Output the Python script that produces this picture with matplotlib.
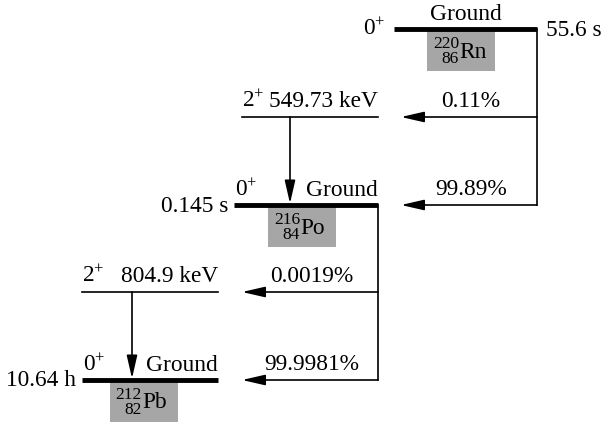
import numpy as np
import matplotlib
matplotlib.use("Agg")
import matplotlib.pyplot as plt

plt.rcParams['font.family'] = ['Liberation Serif', 'DejaVu Serif']
plt.rcParams['mathtext.fontset'] = 'custom'
plt.rcParams['mathtext.rm'] = 'Liberation Serif'
plt.rcParams['mathtext.it'] = 'Liberation Serif:italic'

# nuclides in the chain
nuclidos = ["Rn", "Po", "Pb"]
masa = [220, 216, 212]
carga = [86, 84, 82]
vida = ["55.6 s", "0.145 s", "10.64 h"]
# excited 2+ level of daughters (keV)
excitado = ["549.73", "804.9"]
# branching ratios: to excited, to ground
rama_exc = ["0.11%", "0.0019%"]
rama_gnd = ["99.89%", "99.9981%"]

fig = plt.figure(figsize=(6.03, 4.22), dpi=100)
ax = fig.add_axes([0, 0, 1, 1])
ax.set_xlim(0, 603)
ax.set_ylim(422, 0)
ax.axis("off")

fs = 16.8
fs_small = 12.5
flecha = '-|>,head_length=0.7,head_width=0.16'

# (x left of level, width, y ground, y excited) for each nuclide
xs = [394, 234, 82]
ancho = [143, 144, 136]
yg = [29, 205, 380]
yx = [None, 117, 292]
caja = [427, 268, 110]

for i in range(3):
    x0, w, y = xs[i], ancho[i], yg[i]
    ax.plot([x0, x0 + w], [y, y], color='k', lw=3.5, solid_capstyle='butt')
    # gray box with name
    bx = caja[i]
    ax.add_patch(plt.Rectangle((bx, y + 2), 68, 40, color='#a6a6a6', lw=0))
    ax.text(bx + 32, y + 15, str(masa[i]), ha='right', va='center', fontsize=fs_small)
    ax.text(bx + 32, y + 30, str(carga[i]), ha='right', va='center', fontsize=fs_small)
    ax.text(bx + 32, y + 23, nuclidos[i], ha='left', va='center', fontsize=fs)
    if i == 0:
        ax.text(x0 - 9, y, r"$0^{+}$", ha='right', va='center', fontsize=fs)
        ax.text(x0 + 72, y - 4, "Ground", ha='center', va='bottom', fontsize=fs)
        ax.text(x0 + w + 9, y + 1, vida[i], ha='left', va='center', fontsize=fs)
    else:
        ax.text(x0 + 1, y - 4, r"$0^{+}$", ha='left', va='bottom', fontsize=fs)
        ax.text(x0 + w, y - 4, "Ground", ha='right', va='bottom', fontsize=fs)
        ax.text(x0 - 6, y + 1, vida[i], ha='right', va='center', fontsize=fs)

# excited levels and gamma transitions
ex_x = [242, 82]
ex_w = [136, 136]
gam_x = [290, 132]
for j in range(2):
    y = yx[j + 1]
    ax.plot([ex_x[j], ex_x[j] + ex_w[j]], [y, y], color='k', lw=1.2)
    ax.text(ex_x[j], y - 5, r"$2^{+}$", ha='left', va='bottom', fontsize=fs)
    ax.text(ex_x[j] + ex_w[j], y - 5, excitado[j] + " keV", ha='right', va='bottom', fontsize=fs)
    ax.annotate("", xy=(gam_x[j], yg[j + 1] - 1.5), xytext=(gam_x[j], y),
                arrowprops=dict(arrowstyle=flecha, color='k', lw=1.2, mutation_scale=20,
                                shrinkA=0, shrinkB=0))

# alpha decays
xr = [537, 378]
xl = [401, 242]
for j in range(2):
    ax.plot([xr[j], xr[j]], [yg[j], yg[j + 1]], color='k', lw=1.2)
    for y, lab in [(yx[j + 1], rama_exc[j]), (yg[j + 1], rama_gnd[j])]:
        ax.annotate("", xy=(xl[j], y), xytext=(xr[j], y),
                    arrowprops=dict(arrowstyle=flecha, color='k', lw=1.2, mutation_scale=20,
                                    shrinkA=0, shrinkB=0))
        ax.text((xl[j] + xr[j]) / 2 + 2, y - 5, lab, ha='center', va='bottom', fontsize=fs)

plt.savefig("out.png", dpi=100)
